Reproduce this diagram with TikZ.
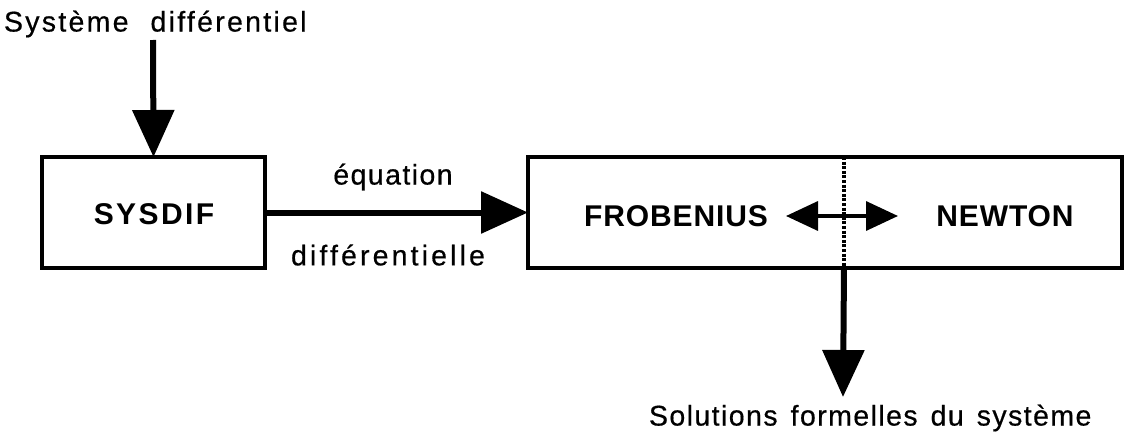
\documentclass[tikz,border=0pt]{standalone}
\usepackage{fontspec}
\setmainfont{Liberation Sans}[LetterSpace=5, FakeBold=0.5]
\newfontfamily\boldlab{Liberation Sans Bold}[LetterSpace=3]
\usetikzlibrary{arrows.meta}
\tikzset{
  box/.style={draw, line width=3.5pt, inner sep=0pt, outer sep=0pt},
  lab/.style={inner sep=0pt, outer sep=0pt, font=\fontsize{28.5}{32}\selectfont},
  blab/.style={inner sep=0pt, outer sep=0pt, font=\boldlab\fontsize{30}{34}\selectfont},
  bigarrow/.style={line width=6pt, -{Triangle[length=47pt, width=41pt]}},
  smallarrow/.style={line width=3.5pt, {Triangle[length=32pt, width=29pt]}-{Triangle[length=32pt, width=29pt]}},
  dotline/.style={line width=3.5pt, dash pattern=on 3pt off 1.6pt}
}
\newcommand{\wgap}{\hspace{13pt}}
\begin{document}
\begin{tikzpicture}[x=1pt, y=-1pt]
\useasboundingbox (0,0) rectangle (1128,436);
% boxes
\node[box, minimum width=223pt, minimum height=111pt] (sys) at (153.5,212.5) {};
\node[blab] (syslab) at (154,214) {\addfontfeature{LetterSpace=8}SYSDIF};
\node[box, minimum width=594pt, minimum height=111pt] (main) at (825,212.5) {};
\node[blab] (frob) at (676,216) {FROBENIUS};
\node[blab] (newt) at (1005,216) {NEWTON};
% texts
\node[lab, anchor=west] (input) at (4,24) {\addfontfeature{LetterSpace=8}Système\hspace{22pt}différentiel};
\node[lab] (eq1) at (393,177) {équation};
\node[lab] (eq2) at (388,255) {\addfontfeature{LetterSpace=11}différentielle};
\node[lab, anchor=west] (output) at (649,418) {\addfontfeature{LetterSpace=5}Solutions\wgap formelles\wgap du\wgap système};
% coordinates
\coordinate (instart) at (153,40);
\coordinate (dtop) at (844,157);
\coordinate (dbot) at (844,268);
\coordinate (outend) at (843,397);
\coordinate (la) at (786,216);
\coordinate (ra) at (898,216);
% connectors
\draw[bigarrow] (instart) -- (sys.north);
\draw[bigarrow] (sys.east) -- (main.west);
\draw[dotline] (dtop) -- (dbot);
\draw[smallarrow] (la) -- (ra);
\draw[bigarrow] (dbot) -- (outend);
\end{tikzpicture}
\end{document}
